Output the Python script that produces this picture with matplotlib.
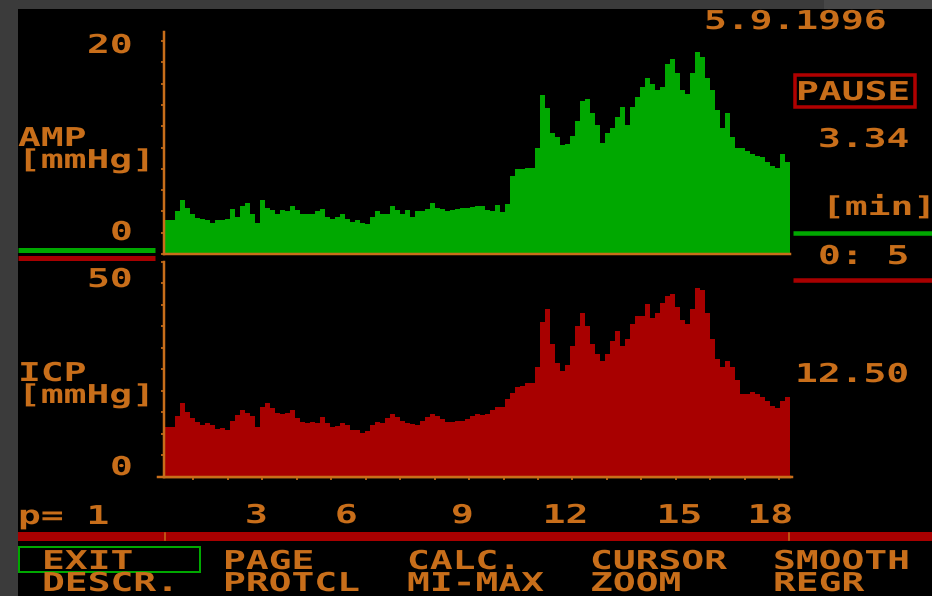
import numpy as np
import matplotlib
matplotlib.use("Agg")
import matplotlib.pyplot as plt
import matplotlib.patheffects as pe
from matplotlib.transforms import Affine2D
from matplotlib.patches import Rectangle
from matplotlib.lines import Line2D

# ---------------- data ----------------
amp_mmhg = [3.2, 3.2, 4.0, 5.1, 4.3, 3.8, 3.4, 3.3, 3.2, 2.9,
            3.2, 3.2, 3.3, 4.2, 3.5, 4.5, 4.8, 3.8, 2.9, 5.1,
            4.3, 4.1, 3.8, 4.1, 4.0, 4.5, 4.1, 3.8, 3.8, 3.8,
            4.0, 4.2, 3.5, 3.3, 3.5, 3.8, 3.3, 3.0, 3.2, 2.9,
            2.8, 3.5, 4.0, 3.8, 3.8, 4.5, 4.1, 3.8, 4.1, 3.5,
            4.0, 4.0, 4.2, 4.8, 4.3, 4.2, 4.0, 4.1, 4.2, 4.3,
            4.3, 4.4, 4.5, 4.5, 4.1, 4.0, 4.6, 3.9, 4.7, 7.3,
            8.0, 8.0, 8.1, 8.1, 10.0, 14.9, 13.7, 11.4, 11.0, 10.2,
            10.3, 11.1, 12.5, 14.4, 14.6, 13.2, 12.1, 10.4, 11.4, 11.8,
            12.9, 13.8, 12.1, 13.8, 14.7, 15.7, 16.5, 16.0, 15.4, 15.7,
            17.8, 18.3, 17.0, 15.4, 15.0, 17.0, 19.0, 18.5, 16.5, 15.4,
            13.5, 11.8, 13.2, 11.0, 10.0, 10.0, 9.7, 9.4, 9.2, 9.1,
            8.6, 8.3, 8.1, 9.4, 8.6]

icp_mmhg = [11.6, 11.6, 14.0, 17.1, 15.0, 13.7, 12.7, 12.0, 12.4, 11.9,
            11.1, 11.3, 10.9, 13.0, 14.4, 15.4, 14.8, 14.0, 11.6, 16.3,
            17.1, 16.0, 14.8, 14.5, 14.8, 15.5, 13.6, 12.8, 12.4, 12.8,
            12.4, 13.8, 12.4, 11.6, 11.8, 12.4, 11.9, 10.9, 10.8, 10.2,
            10.7, 11.9, 12.8, 12.4, 13.6, 14.5, 13.8, 12.9, 12.4, 12.2,
            11.9, 13.0, 13.8, 14.5, 14.0, 13.5, 12.8, 12.6, 12.9, 13.0,
            13.4, 14.2, 14.6, 14.3, 14.6, 15.4, 16.3, 16.2, 18.0, 19.5,
            20.9, 21.2, 21.9, 21.9, 25.5, 36.0, 39.0, 31.0, 26.5, 24.5,
            26.0, 30.5, 35.0, 38.0, 35.0, 31.0, 28.5, 27.0, 28.5, 31.5,
            34.0, 30.5, 32.0, 35.5, 37.5, 37.5, 40.2, 36.9, 38.0, 40.5,
            42.0, 42.5, 39.5, 36.5, 35.5, 39.0, 44.0, 43.5, 38.0, 32.0,
            27.5, 25.5, 27.0, 25.5, 22.5, 19.2, 19.2, 19.8, 19.3, 18.5,
            17.5, 16.5, 16.0, 17.5, 18.6]

t_start_min = 0.18      # time of first sample [min]
sample_min = 0.145      # sample interval [min]
x_minor_ticks = list(range(1, 19))
x_tick_labels = ["3", "6", "9", "12", "15", "18"]
amp_ticks = list(range(0, 21, 2))
icp_ticks = list(range(0, 51, 5))

# ---------------- style ----------------
W, H = 932, 596
ORANGE = "#c86e1a"
GREEN = "#00a800"
RED = "#a80000"
GRAY = "#3b3b3b"
FONT = "DejaVu Sans Mono"
FSIZE = 18.7
SX = 1.46


class Stretch(pe.AbstractPathEffect):
    """Widen glyphs horizontally to mimic the wide DOS bitmap font."""
    def __init__(self, sx, anchor="left"):
        super().__init__()
        self.sx = sx
        self.anchor = anchor

    def draw_path(self, renderer, gc, tpath, affine, rgbFace=None):
        xs = tpath.vertices[:, 0] if len(tpath.vertices) else np.array([0.0])
        cx = (xs.min() + xs.max()) / 2 if self.anchor == "center" else 0.0
        st = Affine2D().translate(-cx, 0).scale(self.sx, 1).translate(cx, 0)
        m = np.dot(affine.get_matrix(), st.get_matrix())
        renderer.draw_path(gc, tpath, Affine2D(m), rgbFace)


fig = plt.figure(figsize=(W / 100, H / 100), dpi=100, facecolor="black")

# background / overlay in pixel coordinates
bg = fig.add_axes([0, 0, 1, 1], zorder=0)
bg.set_xlim(0, W)
bg.set_ylim(H, 0)
bg.axis("off")
bg.set_facecolor("black")


def dos(px, py, s, color=ORANGE, anchor="left"):
    bg.text(px, py, s, color=color, fontsize=FSIZE, family=FONT, weight="bold",
            ha=anchor, va="baseline", zorder=5,
            path_effects=[Stretch(SX, anchor)])


def px2pt(p):
    return p * 0.72


# grey frame
bg.add_patch(Rectangle((0, 0), 18, H, color=GRAY, lw=0))
bg.add_patch(Rectangle((0, 0), W, 9, color=GRAY, lw=0))
bg.add_patch(Rectangle((824, 0), W - 824, 9, color="#474747", lw=0))

# separator lines
bg.add_line(Line2D([18, 155], [249.5, 249.5], color=GREEN, lw=px2pt(5), solid_capstyle="butt"))
bg.add_line(Line2D([18, 155], [258, 258], color=RED, lw=px2pt(5), solid_capstyle="butt"))
bg.add_line(Line2D([793, W], [232.5, 232.5], color=GREEN, lw=px2pt(4.5), solid_capstyle="butt"))
bg.add_line(Line2D([793, W], [279.5, 279.5], color=RED, lw=px2pt(4.5), solid_capstyle="butt"))

# bottom menu bar
bg.add_patch(Rectangle((18, 532), W - 18, 9, color=RED, lw=0))
for xx in (165, 789):
    bg.add_line(Line2D([xx, xx], [533, 540], color=ORANGE, lw=px2pt(1.5)))

# PAUSE box and EXIT box
bg.add_patch(Rectangle((794.5, 74.5), 120, 32, fill=False, ec="#b00000", lw=px2pt(3.5)))
bg.add_patch(Rectangle((19, 547), 181, 25, fill=False, ec=GREEN, lw=px2pt(2)))

# bottom axis extension
bg.add_line(Line2D([158, 792], [477, 477], color=ORANGE, lw=px2pt(2.5), zorder=6))

# ---------------- chart axes ----------------
edges = t_start_min + sample_min * np.arange(len(amp_mmhg) + 1)
xlim = (0.15, 18.31)


def fx(p):
    return p / W


def fy(p):
    return 1 - p / H


def style_axes(ax):
    ax.set_facecolor("black")
    for s in ("top", "right"):
        ax.spines[s].set_visible(False)
    for s in ("left", "bottom"):
        ax.spines[s].set_color(ORANGE)
        ax.spines[s].set_linewidth(px2pt(2.5))
    ax.tick_params(axis="both", direction="out", length=2.5, width=1.2,
                   color=ORANGE, labelleft=False, labelbottom=False)
    ax.set_xlim(*xlim)


ax1 = fig.add_axes([fx(164), fy(254), fx(790) - fx(164), fy(32) - fy(254)], zorder=2)
style_axes(ax1)
ax1.stairs(amp_mmhg, edges, fill=True, color=GREEN, baseline=0, lw=0, antialiased=False)
ax1.set_ylim(0, 20.85)
ax1.set_yticks(amp_ticks)
ax1.set_xticks([])

ax2 = fig.add_axes([fx(164), fy(476.5), fx(790) - fx(164), fy(262) - fy(476.5)], zorder=2)
style_axes(ax2)
ax2.stairs(icp_mmhg, edges, fill=True, color=RED, baseline=0, lw=0, antialiased=False)
ax2.set_ylim(0, 50)
ax2.set_yticks(icp_ticks)
ax2.set_xticks(x_minor_ticks)

# ---------------- texts ----------------
dos(87, 53, "20")
dos(18, 146, "AMP")
dos(18, 168, "[mmHg]")
dos(110, 240, "0")
dos(87, 287, "50")
dos(18, 381, "ICP")
dos(18, 403, "[mmHg]")
dos(110, 475, "0")
dos(18, 524, "p= 1")
for lab, cx in zip(x_tick_labels, [256, 346, 462, 565, 679, 770]):
    dos(cx, 523, lab, anchor="center")

dos(704, 29, "5.9.1996")
dos(796, 100, "PAUSE")
dos(818, 147, "3.34")
dos(822, 215, "[min]")
dos(818, 264, "0: 5")
dos(795, 382, "12.50")

menu = [(42, "EXIT", "DESCR."), (223, "PAGE", "PROTCL"), (407, "CALC.", "MI-MAX"),
        (590, "CURSOR", "ZOOM"), (773, "SMOOTH", "REGR")]
for x0, top, bot in menu:
    dos(x0, 569, top)
    dos(x0, 591, bot)

fig.savefig("out.png", dpi=100, facecolor="black")
